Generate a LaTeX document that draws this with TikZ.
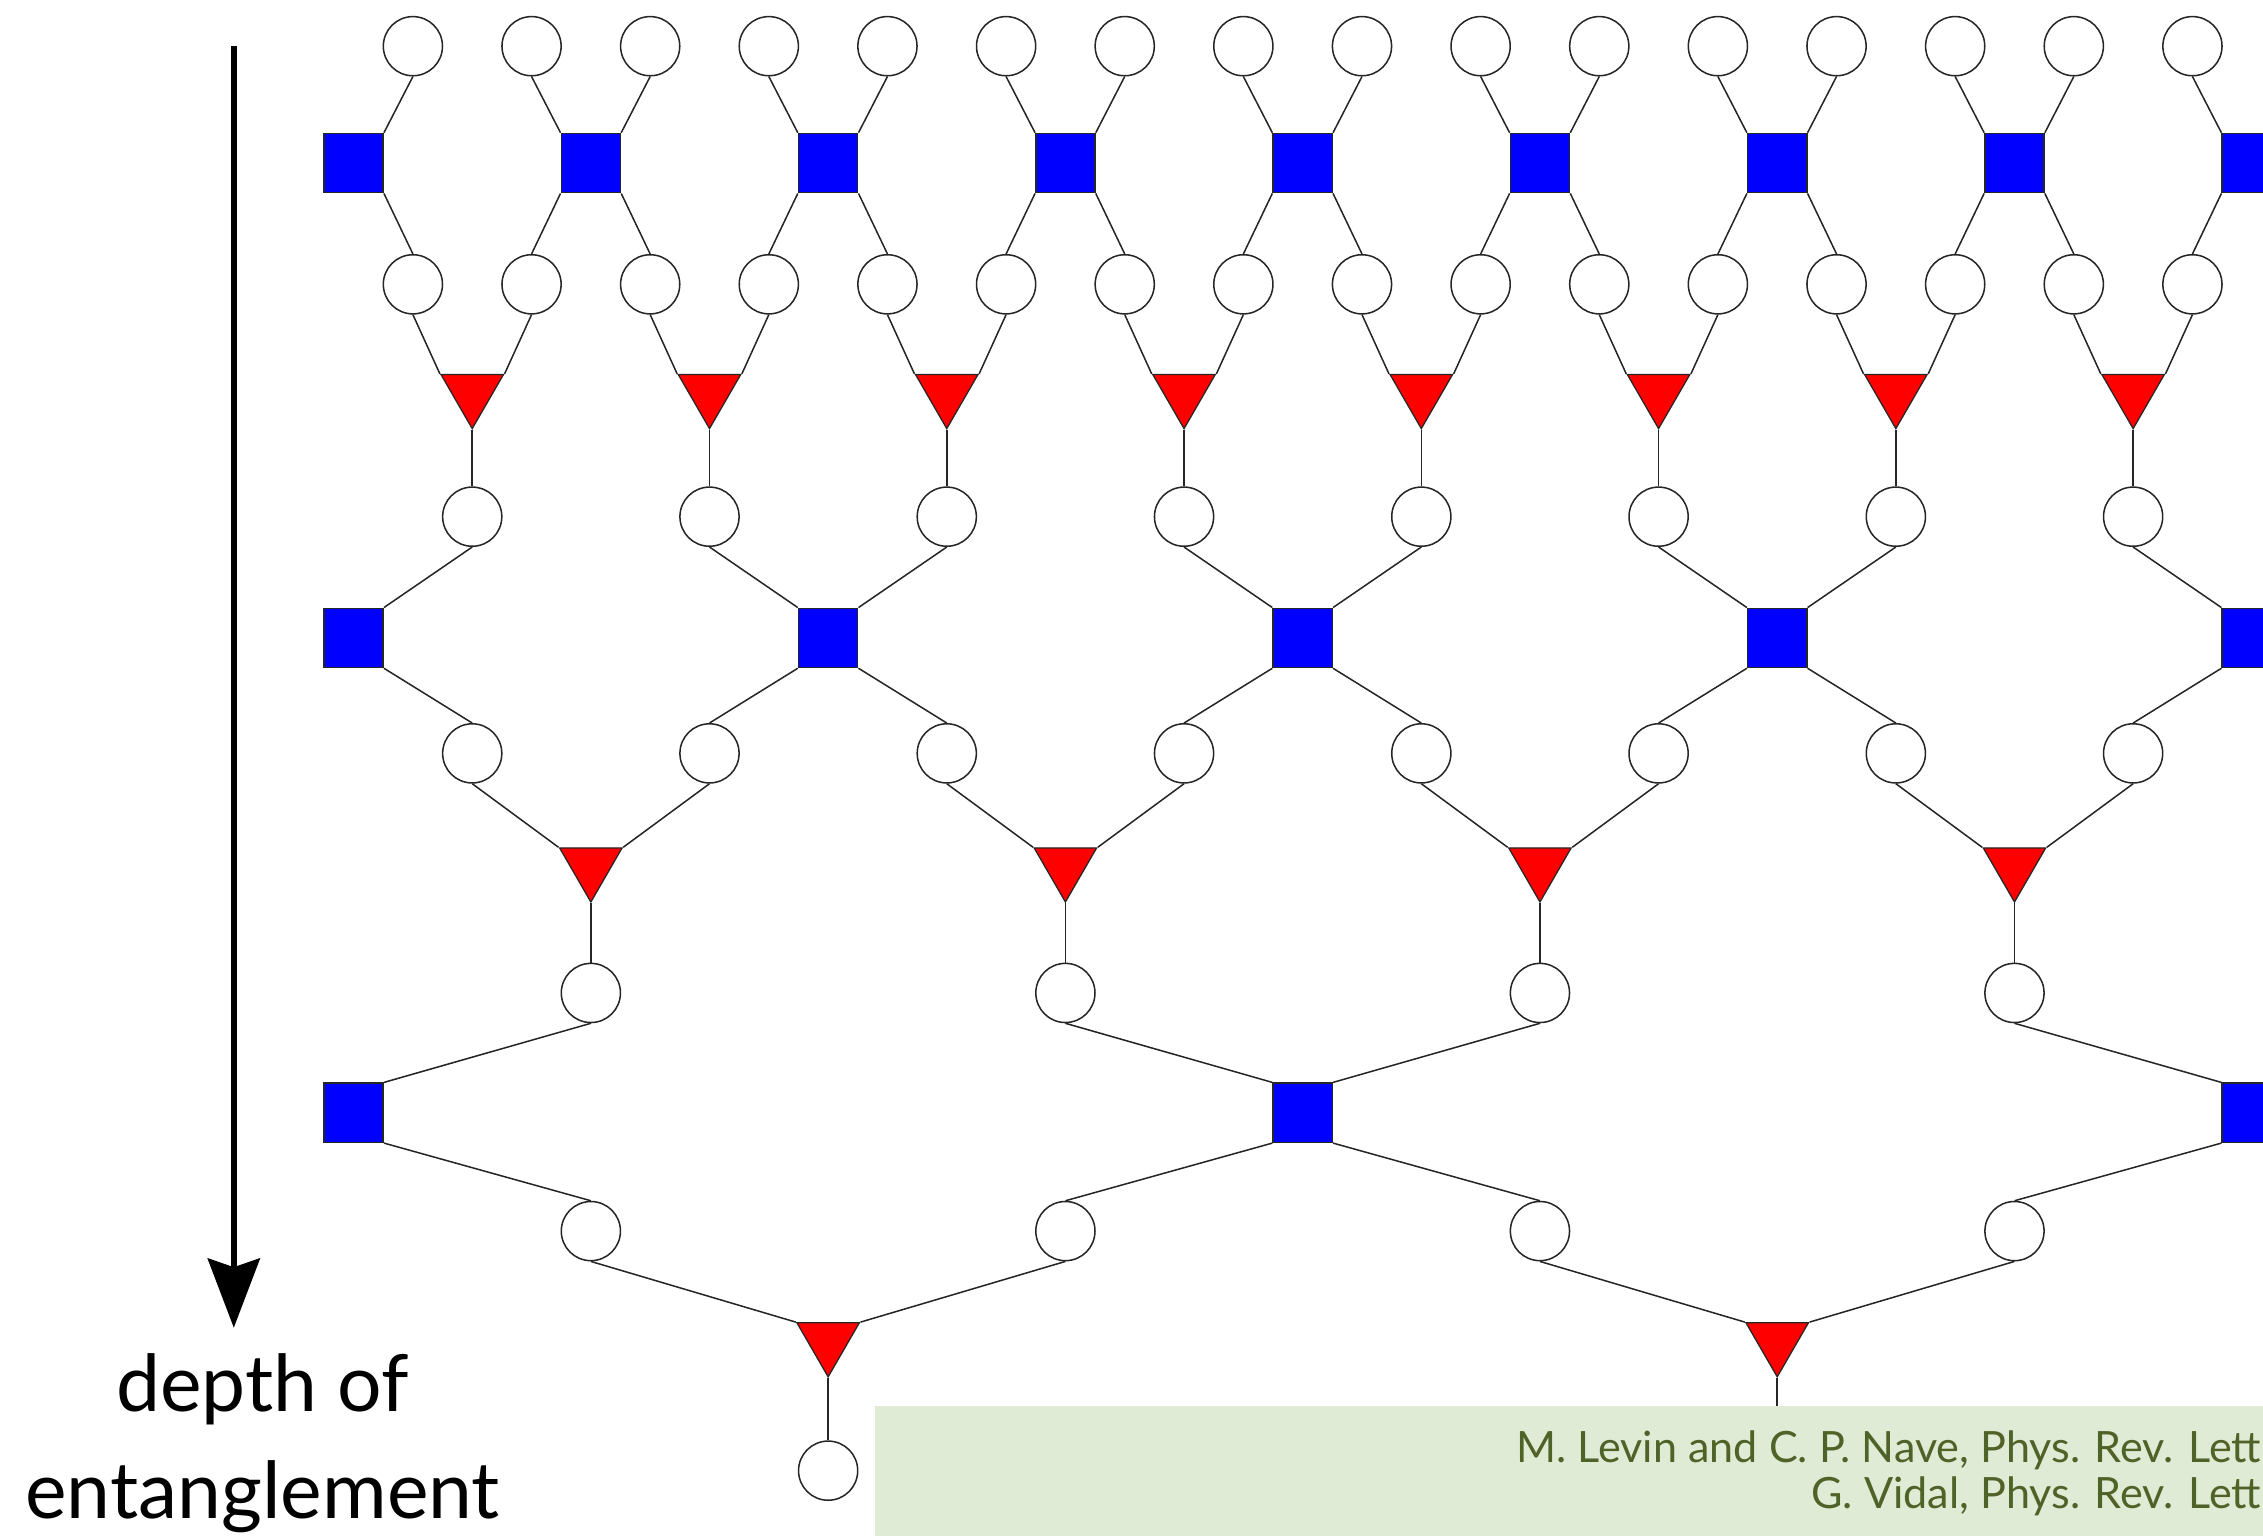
\documentclass[tikz,border=0pt]{standalone}
\usepackage{fontspec}
\setmainfont{Lato}
\usepackage{xcolor}
\usepackage{tikz}
\usetikzlibrary{shapes.geometric,arrows.meta,positioning}
\tikzset{
  site/.style={circle, draw=black!85, fill=white, line width=0.6pt, minimum size=0.82cm, inner sep=0pt},
  disent/.style={rectangle, draw=black!85, fill=blue, line width=0.6pt, minimum size=0.82cm, inner sep=0pt},
  isom/.style={regular polygon, regular polygon sides=3, shape border rotate=180, draw=black!85, fill=red, line width=0.5pt, minimum size=1.0cm, inner sep=0pt},
  bond/.style={line width=0.6pt, black!85},
  deptharrow/.style={-{Stealth[length=0.96cm, width=0.72cm, inset=0.12cm]}, line width=2.4pt},
  depthlabel/.style={anchor=base, inner sep=0pt, font=\fontsize{31}{42}\selectfont},
  citebox/.style={rectangle, fill=citefill, anchor=north west, minimum width=19.24cm, minimum height=1.8cm, inner sep=0pt, outer sep=0pt},
  citetext/.style={anchor=base east, inner sep=0pt, text=citegreen, font=\fontsize{17}{18}\selectfont}
}
\definecolor{citegreen}{RGB}{79,98,40}
\definecolor{citefill}{RGB}{223,235,212}

\begin{document}
\begin{tikzpicture}[x=0.02cm, y=-0.02cm]
\useasboundingbox (0,0) rectangle (1568,1064);
\clip (0,0) rectangle (1568,1064);
\foreach \i in {1,...,16}{
  \node[site] (ca\i) at (203.9+82.2*\i,32) {};
  \node[site] (cb\i) at (203.9+82.2*\i,197) {};
}
\foreach \k in {0,...,8}{
  \pgfmathtruncatemacro\l{2*\k}
  \pgfmathtruncatemacro\r{2*\k+1}
  \node[disent] (sa\k) at (245+164.4*\k,113) {};
  \ifnum\l>0
    \draw[bond] (ca\l.south) -- (sa\k.north west);
    \draw[bond] (sa\k.south west) -- (cb\l.north);
  \fi
  \ifnum\r<17
    \draw[bond] (ca\r.south) -- (sa\k.north east);
    \draw[bond] (sa\k.south east) -- (cb\r.north);
  \fi
}
\foreach \j in {0,...,7}{
  \pgfmathtruncatemacro\l{2*\j+1}
  \pgfmathtruncatemacro\r{2*\j+2}
  \node[isom] (ta\j) at (327.2+164.4*\j,272) {};
  \node[site] (cc\j) at (327.2+164.4*\j,358) {};
  \node[site] (cd\j) at (327.2+164.4*\j,522) {};
  \draw[bond] (cb\l.south) -- (ta\j.corner 3);
  \draw[bond] (cb\r.south) -- (ta\j.corner 2);
  \draw[bond] (ta\j.corner 1) -- (cc\j.north);
}
\foreach \m in {0,...,4}{
  \pgfmathtruncatemacro\l{2*\m-1}
  \pgfmathtruncatemacro\r{2*\m}
  \node[disent] (sb\m) at (245+328.8*\m,442) {};
  \ifnum\l>-1
    \draw[bond] (cc\l.south) -- (sb\m.north west);
    \draw[bond] (sb\m.south west) -- (cd\l.north);
  \fi
  \ifnum\r<8
    \draw[bond] (cc\r.south) -- (sb\m.north east);
    \draw[bond] (sb\m.south east) -- (cd\r.north);
  \fi
}
\foreach \p in {0,...,3}{
  \pgfmathtruncatemacro\l{2*\p}
  \pgfmathtruncatemacro\r{2*\p+1}
  \node[isom] (tb\p) at (409.4+328.8*\p,600) {};
  \node[site] (ce\p) at (409.4+328.8*\p,688) {};
  \node[site] (cf\p) at (409.4+328.8*\p,853) {};
  \draw[bond] (cd\l.south) -- (tb\p.corner 3);
  \draw[bond] (cd\r.south) -- (tb\p.corner 2);
  \draw[bond] (tb\p.corner 1) -- (ce\p.north);
}
\foreach \n in {0,...,2}{
  \pgfmathtruncatemacro\l{2*\n-1}
  \pgfmathtruncatemacro\r{2*\n}
  \node[disent] (sc\n) at (245+657.6*\n,771) {};
  \ifnum\l>-1
    \draw[bond] (ce\l.south) -- (sc\n.north west);
    \draw[bond] (sc\n.south west) -- (cf\l.north);
  \fi
  \ifnum\r<4
    \draw[bond] (ce\r.south) -- (sc\n.north east);
    \draw[bond] (sc\n.south east) -- (cf\r.north);
  \fi
}
\foreach \q in {0,1}{
  \pgfmathtruncatemacro\l{2*\q}
  \pgfmathtruncatemacro\r{2*\q+1}
  \node[isom] (tc\q) at (573.8+657.6*\q,929) {};
  \draw[bond] (cf\l.south) -- (tc\q.corner 3);
  \draw[bond] (cf\r.south) -- (tc\q.corner 2);
}
\node[site] (cg0) at (573.8,1019) {};
\coordinate (cg1) at (1231.4,1000);
\draw[bond] (tc0.corner 1) -- (cg0.north);
\draw[bond] (tc1.corner 1) -- (cg1);

\node[citebox] (cite) at (606,974) {};
\node[citetext] (citea) at (1567,1013) {M. Levin and C. P. Nave, Phys. Rev. Lett};
\node[citetext] (citeb) at (1567,1045) {G. Vidal, Phys. Rev. Lett};

\coordinate (dtop) at (162,32);
\coordinate (dtip) at (162,920);
\draw[deptharrow] (dtop) -- (dtip);
\node[depthlabel] (deptha) at (182,978) {depth of};
\node[depthlabel] (depthb) at (182,1052) {entanglement};
\end{tikzpicture}
\end{document}
